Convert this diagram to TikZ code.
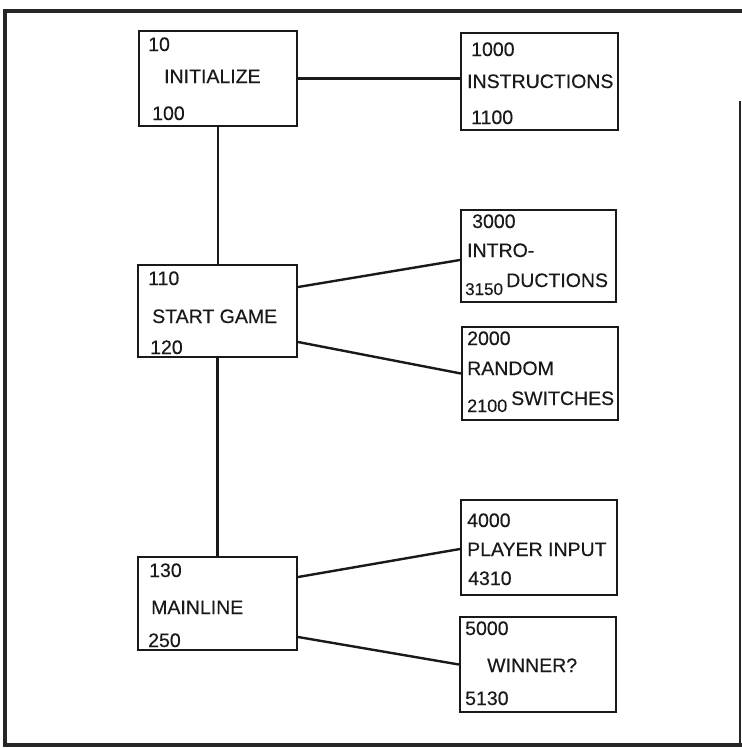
\documentclass[tikz,border=0pt]{standalone}
\usepackage{fontspec}
\setmainfont{Liberation Sans}[FakeBold=0.35]
\begin{document}
\begin{tikzpicture}[x=1pt,y=-1pt,
  box/.style={draw=black!90, line width=2.2pt, rectangle, inner sep=0pt},
  lbl/.style={anchor=base west, inner sep=0pt, font=\fontsize{19.5}{22}\selectfont, text=black!90},
  small/.style={font=\fontsize{17}{20}\selectfont},
  wire/.style={draw=black!90, line width=2.4pt},
  frameline/.style={draw=black!85, line width=4pt}]
\useasboundingbox (0,0) rectangle (742,748);
% frame
\coordinate (f1) at (5,11);
\coordinate (f2) at (740,11);
\coordinate (f3) at (740,745);
\coordinate (f4) at (5,745);
\draw[frameline, line cap=rect] (f2) -- (f1) -- (f4) -- (f3);
\draw[draw=black!85, line width=1.5pt] (f3) -- ([yshift=-90pt]f2);
% boxes
\node[box, minimum width=158pt, minimum height=95pt] (init) at (218,78.5) {};
\node[box, minimum width=157pt, minimum height=97pt] (instr) at (539.5,81.5) {};
\node[box, minimum width=155pt, minimum height=92pt] (intro) at (538.5,256) {};
\node[box, minimum width=156pt, minimum height=93pt] (rand) at (540,373.5) {};
\node[box, minimum width=159pt, minimum height=92pt] (start) at (217.5,311) {};
\node[box, minimum width=156pt, minimum height=95pt] (player) at (539,547.5) {};
\node[box, minimum width=159pt, minimum height=93pt] (main) at (217.5,603.5) {};
\node[box, minimum width=156pt, minimum height=95pt] (winner) at (538,664.5) {};
% texts
\node[lbl] (t10) at (148,51) {10};
\node[lbl] (tinit) at (164,83) {INITIALIZE};
\node[lbl] (t100) at (152,120) {100};
\node[lbl] (t1000) at (471,56) {1000};
\node[lbl] (tinstr) at (467,88) {INSTRUCTIONS};
\node[lbl] (t1100) at (471,124) {1100};
\node[lbl] (t3000) at (472,228) {3000};
\node[lbl] (tintro) at (467,257) {INTRO-};
\node[lbl, small] (t3150) at (465,295) {3150};
\node[lbl] (tduct) at (506,287) {DUCTIONS};
\node[lbl] (t2000) at (467,345) {2000};
\node[lbl] (trand) at (467,375) {RANDOM};
\node[lbl, font=\fontsize{18}{20}\selectfont] (t2100) at (467,412) {2100};
\node[lbl] (tswitch) at (511,405) {SWITCHES};
\node[lbl] (t110) at (148,285) {110};
\node[lbl] (tstart) at (152,323) {START GAME};
\node[lbl] (t120) at (150,354) {120};
\node[lbl] (t4000) at (467,527) {4000};
\node[lbl] (tplayer) at (467,556) {PLAYER INPUT};
\node[lbl] (t4310) at (468,585) {4310};
\node[lbl] (t130) at (149,577) {130};
\node[lbl] (tmain) at (151,614) {MAINLINE};
\node[lbl] (t250) at (148,647) {250};
\node[lbl] (t5000) at (465,635) {5000};
\node[lbl] (twin) at (487,672) {WINNER?};
\node[lbl] (t5130) at (465,705) {5130};
% connectors
\draw[wire] (init.east) -- (init.east -| instr.west);
\draw[wire] (init.south) -- (init.south |- start.north);
\draw[wire] (start.south) -- (start.south |- main.north);
\draw[wire] ([yshift=24pt]start.east) -- ([yshift=-4pt]intro.west);
\draw[wire] ([yshift=-31pt]start.east) -- (rand.west);
\draw[wire] ([yshift=26.5pt]main.east) -- ([yshift=-1.5pt]player.west);
\draw[wire] ([yshift=-33.5pt]main.east) -- (winner.west);
\end{tikzpicture}
\end{document}
